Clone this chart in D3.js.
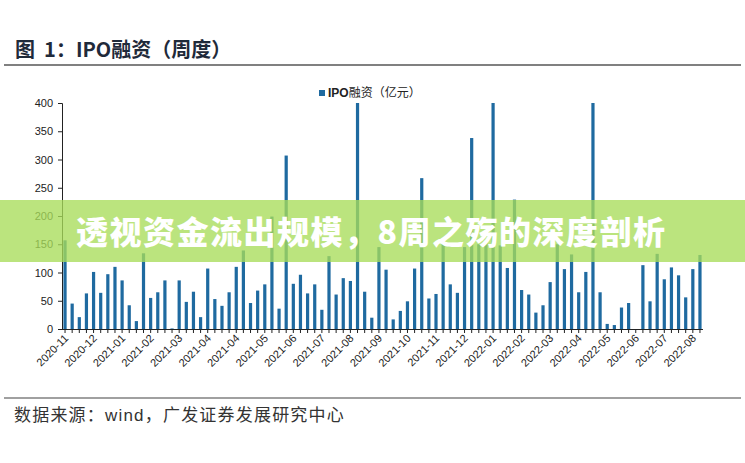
<!DOCTYPE html>
<html><head><meta charset="utf-8">
<script src="https://cdn.jsdelivr.net/npm/d3@7"></script>
<style>body{margin:0;background:#fff;font-family:"Liberation Sans","Noto Sans CJK SC",sans-serif}</style>
</head><body><div id="wrapper"></div>
<script>
const values = [157,45,21,63,101,64,97,110,86,42,14,134,55,65,86,1,86,48,66,21,
  107,53,41,65,110,139,46,68,79,199,36,307,80,96,63,79,34,129,61,90,
  85,400,66,20,145,105,17,32,49,107,267,54,62,152,79,64,145,338,150,155,
  400,148,108,229,69,61,29,42,83,150,106,132,65,101,400,65,9,7,38,46,
  0,113,49,133,88,109,95,56,106,131];
const tickLabels = ["2020-11","2020-12","2021-01","2021-02","2021-03","2021-04","2021-04","2021-05",
  "2021-06","2021-07","2021-08","2021-09","2021-10","2021-11","2021-12","2022-01","2022-02","2022-03",
  "2022-04","2022-05","2022-06","2022-07","2022-08"];
const yTicks = [0,50,100,150,200,250,300,350,400];

const W = 745, H = 463;
const m = {left:62, right:42, top:103, bottom:134};
const svg = d3.select("#wrapper").append("svg").attr("width",W).attr("height",H);

svg.append("text").attr("x",15).attr("y",57).attr("font-size",20).attr("font-weight","bold")
  .attr("fill","#1f2a3a").attr("font-family","Noto Sans CJK SC")
  .html('图&#160;&#160;1：IPO融资（周度）');
svg.append("line").attr("x1",4).attr("x2",W-4).attr("y1",65).attr("y2",65).attr("stroke","#808080").attr("stroke-width",2);

const idx = d3.range(values.length);
const x = d3.scaleBand().domain(idx).range([m.left, W-m.right]).paddingInner(0.55).paddingOuter(0.2);
const y = d3.scaleLinear().domain([0,400]).range([H-m.bottom, m.top]);

svg.append("g").selectAll("rect").data(values).join("rect")
  .attr("x",(d,i)=>x(i)).attr("width",x.bandwidth())
  .attr("y",d=>y(d)).attr("height",d=>y(0)-y(d)).attr("fill","#1f6aa0");

const ya = svg.append("g").attr("transform",`translate(${m.left},0)`)
  .call(d3.axisLeft(y).tickValues(yTicks).tickSize(4).tickPadding(5));
ya.selectAll("text").attr("font-size",11).attr("fill","#222");
ya.selectAll("line,path").attr("stroke","#222");

const xa = svg.append("g").attr("transform",`translate(0,${y(0)})`)
  .call(d3.axisBottom(x).tickSize(4).tickFormat(()=>"").tickSizeOuter(0));
xa.selectAll("line,path").attr("stroke","#222");
xa.select("path").attr("d",`M${m.left},0.5H${W-m.right}`);
svg.append("g").selectAll("text").data(tickLabels).join("text")
  .attr("transform",(d,i)=>`translate(${x(i*4)+x.bandwidth()/2+4},${y(0)+10}) rotate(-45)`)
  .attr("text-anchor","end").attr("font-size",11).attr("fill","#222").text(d=>d);

const lg = svg.append("g").attr("transform","translate(319,97)");
lg.append("rect").attr("x",0).attr("y",-7).attr("width",6).attr("height",6).attr("fill","#1f6aa0");
lg.append("text").attr("x",9).attr("y",0).attr("font-size",12).attr("fill","#222")
  .html('<tspan font-weight="bold">IPO</tspan>融资（亿元）');

svg.append("line").attr("x1",4).attr("x2",W-4).attr("y1",398).attr("y2",398).attr("stroke","#808080").attr("stroke-width",1.5);
svg.append("text").attr("x",14).attr("y",421).attr("font-size",17).attr("letter-spacing",1.2).attr("fill","#333").text("数据来源：wind，广发证券发展研究中心");

svg.append("rect").attr("x",0).attr("y",200).attr("width",W).attr("height",62).attr("fill","rgba(168,220,90,0.78)");
svg.append("text").attr("x",76).attr("y",244).attr("font-size",32).attr("letter-spacing",1.5).attr("font-weight","900").attr("fill","#fff")
  .attr("font-family","Noto Sans CJK SC").text("透视资金流出规模，8周之殇的深度剖析");
</script></body></html>
